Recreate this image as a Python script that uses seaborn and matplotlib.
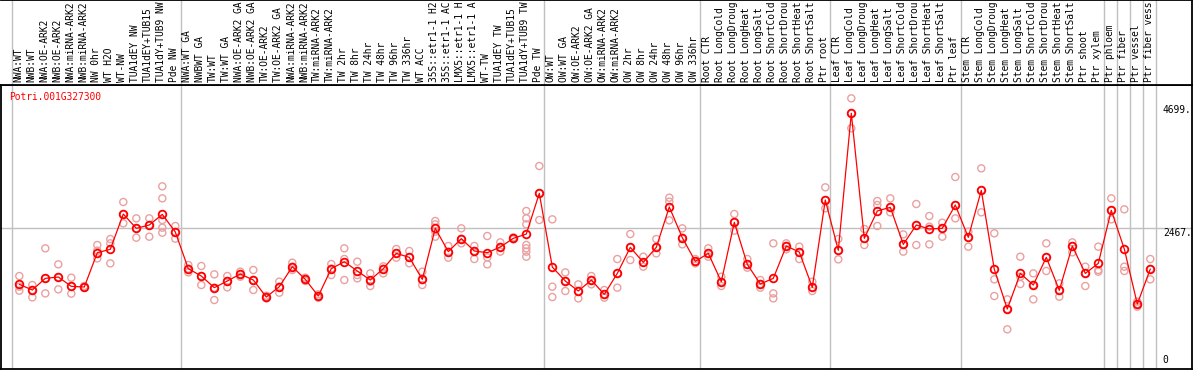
import numpy as np
import pandas as pd
import matplotlib
matplotlib.use('Agg')
import matplotlib.pyplot as plt
import seaborn as sns
from matplotlib.transforms import blended_transform_factory

gene = 'Potri.001G327300'

labels = [
    'NWA:WT', 'NWB:WT', 'NWA:OE-ARK2', 'NWB:OE-ARK2', 'NWA:miRNA-ARK2', 'NWB:miRNA-ARK2',
    'NW 0hr', 'WT H2O', 'WT-NW', 'TUA1dEY NW', 'TUA1dEY+TUB15', 'TUA1dY+TUB9 NW', 'Pde NW',
    'NWA:WT GA', 'NWBWT GA', 'TW:WT', 'TW:WT GA', 'NWA:OE-ARK2 GA', 'NWB:OE-ARK2 GA',
    'TW:OE-ARK2', 'TW:OE-ARK2 GA', 'NWA:miRNA-ARK2', 'NWB:miRNA-ARK2', 'TW:miRNA-ARK2',
    'TW:miRNA-ARK2', 'TW 2hr', 'TW 8hr', 'TW 24hr', 'TW 48hr', 'TW 96hr', 'TW 336hr', 'WT ACC',
    '35S::etr1-1 H2', '35S::etr1-1 AC', 'LMX5::etr1-1 H', 'LMX5::etr1-1 A', 'WT-TW',
    'TUA1dEY TW', 'TUA1dEY+TUB15', 'TUA1dY+TUB9 TW', 'Pde TW',
    'OW:WT', 'OW:WT GA', 'OW:OE-ARK2', 'OW:OE-ARK2 GA', 'OW:miRNA-ARK2', 'OW:miRNA-ARK2',
    'OW 2hr', 'OW 8hr', 'OW 24hr', 'OW 48hr', 'OW 96hr', 'OW 336hr',
    'Root CTR', 'Root LongCold', 'Root LongDroug', 'Root LongHeat', 'Root LongSalt',
    'Root ShortCold', 'Root ShortDrou', 'Root ShortHeat', 'Root ShortSalt', 'Ptr root',
    'Leaf CTR', 'Leaf LongCold', 'Leaf LongDroug', 'Leaf LongHeat', 'Leaf LongSalt',
    'Leaf ShortCold', 'Leaf ShortDrou', 'Leaf ShortHeat', 'Leaf ShortSalt', 'Ptr leaf',
    'Stem CTR', 'Stem LongCold', 'Stem LongDroug', 'Stem LongHeat', 'Stem LongSalt',
    'Stem ShortCold', 'Stem ShortDrou', 'Stem ShortHeat', 'Stem ShortSalt', 'Ptr shoot',
    'Ptr xylem', 'Ptr phloem', 'Ptr fiber', 'Ptr vessel', 'Ptr fiber vess',
]

means = [
    1456, 1354, 1564, 1588, 1420, 1408, 2027, 2088, 2725, 2467, 2527, 2719, 2401,
    1739, 1606, 1396, 1516, 1642, 1534, 1227, 1414, 1775, 1546, 1245, 1739, 1865,
    1697, 1534, 1739, 2015, 1943, 1546, 2467, 2046, 2280, 2058, 2027, 2130, 2286,
    2364, 3098,
    1769, 1516, 1336, 1534, 1275, 1654, 2124, 1853, 2124, 2852, 2298, 1871,
    2015, 1504, 2575, 1817, 1462, 1564, 2148, 2039, 1402, 2978,
    2070, 4543, 2286, 2780, 2846, 2178, 2527, 2455, 2467, 2888,
    2304, 3153, 1727, 1011, 1654, 1444, 1943, 1348, 2148, 1654,
    1835, 2792, 2094, 1101, 1733,
]

replicates = [
    [1606, 1414, 1342], [1444, 1354, 1221], [2106, 1564, 1293], [1817, 1588, 1366],
    [1576, 1420, 1288], [1426, 1408, 1396], [2166, 2064, 1925], [2274, 2196, 1835],
    [2942, 2725, 2557], [2647, 2467, 2298], [2647, 2527, 2316],
    [3225, 3008, 2617, 2479, 2388], [2509, 2401, 2280],
    [1805, 1739, 1672], [1787, 1606, 1444], [1636, 1396, 1173], [1606, 1516, 1402],
    [1685, 1642, 1594], [1715, 1534, 1354], [1251, 1227, 1203], [1504, 1414, 1305],
    [1847, 1775, 1715], [1576, 1546, 1516], [1275, 1245, 1215], [1823, 1739, 1624],
    [2106, 1913, 1534], [1865, 1624, 1564], [1654, 1504, 1426], [1781, 1739, 1654],
    [2094, 2015, 1937], [2058, 1943, 1835], [1685, 1534, 1444],
    [2599, 2539, 2407, 2316], [2148, 2046, 1937], [2467, 2280, 2196],
    [2148, 2058, 1913], [2328, 1943, 1817], [2214, 2130, 2046], [2304, 2286, 2268],
    [2780, 2647, 2539, 2166, 2106, 2046, 1955], [3592, 3098, 2617],
    [2629, 1414, 1227], [1672, 1516, 1336], [1456, 1336, 1203], [1606, 1534, 1456],
    [1354, 1275, 1215], [1913, 1654, 1396], [2364, 2124, 1895], [1955, 1853, 1775],
    [2274, 2124, 2015], [3020, 2948, 2611], [2467, 2298, 2178], [1913, 1871, 1835],
    [2106, 2015, 1955], [1594, 1504, 1426], [2725, 2575, 2425], [1913, 1817, 1757],
    [1534, 1462, 1396], [2196, 1293, 1203], [2196, 2148, 2088], [2136, 2039, 1913],
    [1504, 1402, 1336], [3207, 2978, 2828],
    [2274, 2070, 1907], [4813, 4543, 4272], [2455, 2286, 2166], [2960, 2888, 2509],
    [3008, 2846, 2756], [2358, 2178, 2046], [2906, 2527, 2166], [2689, 2497, 2178],
    [2569, 2467, 2316], [3393, 2888, 2647],
    [2407, 2304, 2136], [3550, 3153, 2756], [2377, 1546, 1245], [1185, 1011, 644],
    [1955, 1594, 1462], [1654, 1444, 1185], [2196, 1943, 1697], [1474, 1348, 1233],
    [2214, 2148, 2034], [1775, 1654, 1426],
    [2136, 1715, 1685], [3008, 2792, 2629], [2810, 1775, 1697], [1143, 1101, 1053],
    [1913, 1733, 1546],
]

group_starts = [0, 13, 41, 53, 63, 73, 84, 85, 86, 87, 88]
ref_value = 2467
ytick_values = [0, 2467, 4699]
ytick_labels = ['0', '2467.', '4699.']

# ---------------------------------------------------------------
sns.set_style('white')
plt.rcParams['font.family'] = ['DejaVu Sans Mono']

W, H = 1194, 370
fig = plt.figure(figsize=(W / 100, H / 100), dpi=100)


def box(x0, y0, x1, y1):
    return [x0 / W, 1 - y1 / H, (x1 - x0) / W, (y1 - y0) / H]


ax = fig.add_axes(box(1, 85, 1192, 369))
lab = fig.add_axes(box(1, 0, 1192, 85))

x_idx = np.arange(len(labels))
xlim = ((1 - 19.3) / 13.0, (1192 - 19.3) / 13.0)
grey = '#c0c0c0'
red = '#ff0000'
pink = '#eba0a0'
fs = 6.9

for a in (ax, lab):
    a.set_xlim(*xlim)
    a.set_xticks([])
    a.set_yticks([])
    a.set_facecolor('white')
    for s in a.spines.values():
        s.set_color('black')
        s.set_linewidth(1.3)
    for g in group_starts:
        a.axvline(g - 0.6, color=grey, lw=1.0, zorder=0)
lab.spines['left'].set_visible(False)
lab.set_ylim(0, 1)

ax.set_ylim(-72, 5054)
ax.axhline(ref_value, color=grey, lw=1.0, zorder=0)

# replicate points
rep_df = pd.DataFrame(
    [(i, v) for i, vals in enumerate(replicates) for v in vals],
    columns=['idx', 'value'])
sns.scatterplot(data=rep_df, x='idx', y='value', ax=ax, marker='o', s=26,
                facecolors='none', edgecolor=pink, linewidth=1.0, zorder=2,
                legend=False)

# mean line
mean_df = pd.DataFrame({'idx': x_idx, 'value': means})
sns.lineplot(data=mean_df, x='idx', y='value', ax=ax, color=red, lw=0.9,
             marker='o', markersize=5.5, markerfacecolor='none',
             markeredgecolor=red, markeredgewidth=1.3, zorder=3, legend=False)
ax.set_xlabel('')
ax.set_ylabel('')
ax.set_xlim(*xlim)

# right-side value labels
trans = blended_transform_factory(ax.transAxes, ax.transData)
for v, t in zip(ytick_values, ytick_labels):
    ax.text(0.9755, v, t, transform=trans, fontsize=fs, color='black',
            ha='left', va='bottom' if v == 0 else 'top')

# gene name
ax.text(8.3 / (1192 - 1), 1 - 12 / 284, gene, transform=ax.transAxes,
        fontsize=fs, color=red, ha='left', va='center')

# sample labels
ltrans = blended_transform_factory(lab.transData, lab.transAxes)
for i, t in enumerate(labels):
    lab.text(i - 0.1, 0.03, t, transform=ltrans, rotation=90, fontsize=fs,
             ha='center', va='bottom', color='black', clip_on=True)

fig.savefig('out.png', dpi=100, facecolor='white')
